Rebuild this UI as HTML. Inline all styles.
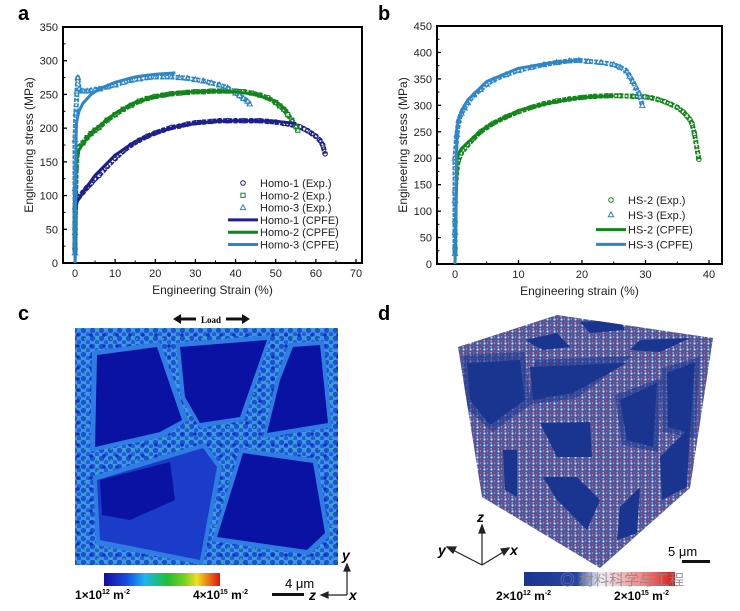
<!DOCTYPE html>
<html><head><meta charset="utf-8"><style>
html,body{margin:0;padding:0;background:#fff;}
body{width:740px;height:611px;position:relative;overflow:hidden;font-family:"Liberation Sans",Arial,sans-serif;}
svg{position:absolute;left:0;top:0;}
</style></head><body>
<svg id="fig" width="740" height="611" viewBox="0 0 740 611">
<defs>
<pattern id="cellpat" x="0" y="0" width="9" height="8" patternUnits="userSpaceOnUse">
<rect width="9" height="8" fill="#3a94ec"/>
<circle cx="2.5" cy="2.5" r="2.6" fill="#1c52cc"/>
<circle cx="7" cy="6.2" r="2.2" fill="#2060d6"/>
<circle cx="6.5" cy="1.2" r="0.7" fill="#3cc45a"/>
</pattern>
<pattern id="cellpat2" x="3" y="2" width="13" height="11" patternUnits="userSpaceOnUse">
<circle cx="4" cy="7" r="0.9" fill="#45c83a"/>
<circle cx="10" cy="3" r="1.8" fill="#142fb8"/>
</pattern>
<pattern id="cubepat" x="0" y="0" width="7" height="6" patternUnits="userSpaceOnUse">
<rect width="7" height="6" fill="#4a579e"/>
<circle cx="1.5" cy="1.5" r="1.1" fill="#d8d8ec"/>
<circle cx="5" cy="4" r="0.9" fill="#d83838"/>
<circle cx="4.5" cy="1" r="0.7" fill="#9aa0cc"/>
<circle cx="1.2" cy="4.8" r="0.8" fill="#b8bcdc"/>
</pattern>
<linearGradient id="jet" x1="0" x2="1" y1="0" y2="0">
<stop offset="0" stop-color="#1a0a9e"/><stop offset="0.2" stop-color="#1450e0"/><stop offset="0.35" stop-color="#1eb4f0"/><stop offset="0.55" stop-color="#22c030"/><stop offset="0.7" stop-color="#7ed020"/><stop offset="0.8" stop-color="#f0e020"/><stop offset="1" stop-color="#e81010"/>
</linearGradient>
<linearGradient id="bwr" x1="0" x2="1" y1="0" y2="0">
<stop offset="0" stop-color="#1a3590"/><stop offset="0.35" stop-color="#2a45a0"/><stop offset="0.5" stop-color="#f2f2f8"/><stop offset="0.8" stop-color="#f08080"/><stop offset="1" stop-color="#d81818"/>
</linearGradient>
<clipPath id="cubeclip"><polygon points="458,347 557,315 713,338 690,488 600,568 482,497"/></clipPath>
<clipPath id="cclip"><rect x="75" y="328" width="263" height="237"/></clipPath>
</defs>
<g id="gA"></g>
<g id="gB"></g>

<!-- panel c -->
<g>
<text x="18" y="320" font-size="20" font-weight="bold">c</text>
<g>
<polygon points="173,319 181,314 181,317.5 196,317.5 196,320.5 181,320.5 181,324" fill="#111"/>
<polygon points="250,319 242,314 242,317.5 226,317.5 226,320.5 242,320.5 242,324" fill="#111"/>
<text x="211" y="323" font-size="9" font-weight="bold" font-family="Liberation Serif,serif" text-anchor="middle">Load</text>
</g>
<g clip-path="url(#cclip)">
<rect x="75" y="328" width="263" height="237" fill="url(#cellpat)"/>
<rect x="75" y="328" width="263" height="237" fill="url(#cellpat2)"/>
<g fill="#2f7ce2">
<polygon points="92,351 160,342 188,420 164,437 90,452"/>
<polygon points="176,343 271,335 244,421 200,428 181,399"/>
<polygon points="289,343 324,341 332,427 263,438 276,380"/>
<polygon points="240,448 317,459 330,536 309,555 212,541"/>
<polygon points="93,476 205,443 222,467 203,565 96,545"/>
</g>
<g fill="#0a12a4">
<polygon points="97,355 157,347 182,420 160,432 95,447"/>
<polygon points="180,347 267,340 240,417 200,423 185,397"/>
<polygon points="293,347 320,345 328,423 267,433 280,380"/>
<polygon points="243,453 313,463 325,533 307,550 217,537"/>
</g>
<polygon points="97,480 203,448 217,467 200,560 100,540" fill="#1a3cc8"/>
<polygon points="100,480 170,462 175,500 130,520 102,515" fill="#0a12a4"/>
</g>
<rect x="104" y="573" width="116" height="13" fill="url(#jet)"/>
<text x="75" y="599" font-size="12" font-weight="bold">1×10<tspan font-size="7" dy="-5">12</tspan><tspan dy="5"> m</tspan><tspan font-size="7" dy="-5">-2</tspan></text>
<text x="193" y="599" font-size="12" font-weight="bold">4×10<tspan font-size="7" dy="-5">15</tspan><tspan dy="5"> m</tspan><tspan font-size="7" dy="-5">-2</tspan></text>
<text x="285" y="588" font-size="13">4 μm</text>
<rect x="272" y="593" width="32" height="3" fill="#111"/>
<g stroke="#222" stroke-width="1.2" fill="#222">
<line x1="347" y1="595" x2="347" y2="568"/><polygon points="347,564 344,571 350,571"/>
<line x1="347" y1="595" x2="325" y2="595"/><polygon points="321,595 328,592 328,598"/>
</g>
<text x="342" y="560" font-size="14" font-style="italic" font-weight="bold">y</text>
<text x="309" y="600" font-size="14" font-style="italic" font-weight="bold">z</text>
<text x="349" y="600" font-size="14" font-style="italic" font-weight="bold">x</text>
</g>

<!-- panel d -->
<g>
<text x="378" y="320" font-size="20" font-weight="bold">d</text>
<g clip-path="url(#cubeclip)">
<rect x="450" y="310" width="270" height="265" fill="url(#cubepat)"/>
<g fill="#1e3a94" opacity="0.6">
<polygon points="462,355 525,352 530,405 492,432 464,405"/>
<polygon points="535,360 632,356 577,398 528,405"/>
<polygon points="615,395 662,378 658,452 622,445"/>
<polygon points="662,368 700,357 695,438 663,432"/>
</g>
<g fill="#1a3590">
<polygon points="467,363 520,360 525,400 490,425 470,400"/>
<polygon points="503,450 517,450 517,497 505,490"/>
<polygon points="525,340 557,333 570,347 543,350"/>
<polygon points="580,322 620,320 625,330 590,333"/>
<polygon points="540,423 590,422 592,457 557,457"/>
<polygon points="530,367 627,363 573,393 533,400"/>
<polygon points="620,400 657,383 653,447 627,440"/>
<polygon points="667,373 695,362 690,433 668,427"/>
<polygon points="660,457 690,427 687,487 662,500"/>
<polygon points="543,477 577,477 600,500 587,530 557,500"/>
<polygon points="620,507 640,487 637,533 617,540"/>
<polygon points="640,340 690,338 660,352 630,350"/>
</g>
</g>
<g stroke="#222" stroke-width="1.2" fill="#222">
<line x1="482" y1="565" x2="482" y2="530"/><polygon points="482,525 479,533 485,533"/>
<line x1="482" y1="565" x2="451" y2="549"/><polygon points="447,547 453,553 456,547"/>
<line x1="482" y1="565" x2="505" y2="551"/><polygon points="509,548 501,549 504,555"/>
</g>
<text x="477" y="522" font-size="14" font-style="italic" font-weight="bold">z</text>
<text x="438" y="555" font-size="14" font-style="italic" font-weight="bold">y</text>
<text x="510" y="555" font-size="14" font-style="italic" font-weight="bold">x</text>
<text x="668" y="556" font-size="13">5 μm</text>
<rect x="682" y="560" width="28" height="3" fill="#111"/>
<rect x="524" y="572" width="151" height="14" fill="url(#bwr)"/>
<text x="560" y="585" font-size="15" fill="#888" opacity="0.85" font-family="Liberation Sans,Noto Sans CJK SC,sans-serif">◎ 材料科学与工程</text>
<text x="496" y="600" font-size="12" font-weight="bold">2×10<tspan font-size="7" dy="-5">12</tspan><tspan dy="5"> m</tspan><tspan font-size="7" dy="-5">-2</tspan></text>
<text x="614" y="600" font-size="12" font-weight="bold">2×10<tspan font-size="7" dy="-5">15</tspan><tspan dy="5"> m</tspan><tspan font-size="7" dy="-5">-2</tspan></text>
</g>
</svg>
<script>
// ---------- Panel a data ----------
const aXTicks = [0,10,20,30,40,50,60,70];
const aYTicks = [0,50,100,150,200,250,300,350];
const h1ExpX = [0,0,0,0.3,1,2,3,4,5,6,8,10,12,14,16,18,20,22,24,26,28,30,32,34,36,38,40,42,44,46,48,50,52,54,56,57,58,59,60,61,61.7,62.3];
const h1ExpY = [20,50,80,92,98,105,112,118,125,130,143,155,166,175,182,188,193,197,201,203,206,208,209,210,211,211,211,211,211,211,210,209,207,205,202,199,196,192,188,182,175,162];
const h2ExpX = [0,0,0.3,0.6,1,2,3,4,5,6,8,10,12,14,16,18,20,22,24,26,28,30,32,34,36,38,40,42,44,46,48,50,51,52,53,54,55,55.5];
const h2ExpY = [25,58,142,165,172,178,186,192,197,201,212,220,228,234,240,244,247,249,251,252,253,254,254,255,255,255,255,254,252,249,245,238,233,228,220,212,203,197];
const h3ExpX = [0,0,0,0,0.2,0.5,0.7,1,1.5,2,3,4,5,6,8,10,12,14,16,18,20,22,24,26,28,30,32,34,36,38,40,41,42,43,43.5];
const h3ExpY = [15,45,110,183,222,255,275,258,255,255,255,256,257,258,261,264,268,271,273,275,276,276,276,275,274,272,270,267,264,260,252,248,244,240,236];
const h1SimX = [0,0.3,0.6,1,2,5,10,15,20,25,30,35,40,45,50,55];
const h1SimY = [0,85,92,95,105,130,160,180,193,202,207,210,211,211,210,207];
const h2SimX = [0,0.3,1,3,5,10,15,20,25,30,35,40,45,50,53];
const h2SimY = [0,150,168,185,198,222,238,247,252,254,255,254,250,240,225];
const h3SimX = [0,0.3,0.6,1,2,4,6,10,15,20,25];
const h3SimY = [0,205,215,225,237,250,258,268,276,280,282];
// ---------- Panel b data ----------
const bXTicks = [0,10,20,30,40];
const bYTicks = [0,50,100,150,200,250,300,350,400,450];
const hs2ExpX = [0,0,0,0.3,0.5,1,2,3,4,5,6,8,10,12,14,16,18,20,22,24,26,28,30,31,32,33,34,35,36,36.5,37,37.3,37.7,38.4];
const hs2ExpY = [30,80,135,180,195,210,225,238,250,258,266,278,288,296,303,308,312,315,317,318,318,317,316,314,311,307,302,296,287,280,273,266,247,198];
const hs3ExpX = [0,0,0,0,0.3,0.6,1,1.5,2,3,4,5,6,8,10,12,14,16,18,19.5,21,23,25,26,27,27.5,28,28.5,29,29.5];
const hs3ExpY = [20,60,120,200,245,272,285,295,305,320,330,340,348,358,366,372,377,381,384,385,383,381,377,372,365,355,345,333,322,300];
const hs2SimX = [0,0.3,0.6,1,2,5,10,15,20,25];
const hs2SimY = [0,195,210,218,230,260,290,305,315,318];
const hs3SimX = [0,0.3,0.6,1,2,5,10,15,20];
const hs3SimY = [0,255,275,290,310,345,370,380,386];

const NS='http://www.w3.org/2000/svg';
const NAVY='#1c1f8c', GREEN='#11861a', LBLUE='#2c86c8';
function mk(tag,attrs,parent){const e=document.createElementNS(NS,tag);for(const k in attrs)e.setAttribute(k,attrs[k]);parent.appendChild(e);return e;}

function panel(g,cfg){
  const xs=v=>cfg.x0+(v-cfg.xmin)/(cfg.xmax-cfg.xmin)*(cfg.x1-cfg.x0);
  const ys=v=>cfg.y0-(v-cfg.ymin)/(cfg.ymax-cfg.ymin)*(cfg.y0-cfg.y1);
  cfg.xs=xs;cfg.ys=ys;
  const L=cfg.bl,R=cfg.br,T=cfg.bt,B=cfg.bb;
  cfg.xTicks.forEach((v,i)=>{
    const t=mk('line',{x1:xs(v),x2:xs(v),y1:B,y2:B-4,stroke:'#000','stroke-width':1.3},g);
    
    
    const lb=mk('text',{x:xs(v),y:B+14,'font-size':11,'text-anchor':'middle',fill:'#222'},g);
    lb.textContent=v;
    
    
    if(i<cfg.xTicks.length-1){const m=(v+cfg.xTicks[i+1])/2;
      const mt=mk('line',{x1:xs(m),x2:xs(m),y1:B,y2:B-2.5,stroke:'#000','stroke-width':1},g);
      
      }
  });
  cfg.yTicks.forEach((v,i)=>{
    const t=mk('line',{x1:L,x2:L+4,y1:ys(v),y2:ys(v),stroke:'#000','stroke-width':1.3},g);
    
    
    const lb=mk('text',{x:L-5,y:ys(v)+4,'font-size':11,'text-anchor':'end',fill:'#222'},g);
    lb.textContent=v;
    
    
    if(i<cfg.yTicks.length-1){const m=(v+cfg.yTicks[i+1])/2;
      const mt=mk('line',{x1:L,x2:L+2.5,y1:ys(m),y2:ys(m),stroke:'#000','stroke-width':1},g);
      
      }
  });
  const frame=mk('rect',{x:L,y:T,width:R-L,height:B-T,fill:'none',stroke:'#000','stroke-width':2},g);
  
  
  const xt=mk('text',{x:(L+R)/2,y:B+31,'font-size':12,'text-anchor':'middle',fill:'#222'},g);
  xt.textContent=cfg.xTitle;
  
  
  const yt=mk('text',{x:0,y:0,'font-size':12,'text-anchor':'middle',fill:'#222',transform:`translate(${L-30},${(T+B)/2}) rotate(-90)`},g);
  yt.textContent='Engineering stress (MPa)';
  
  
  const pl=mk('text',{x:cfg.labX,y:20,'font-size':20,'font-weight':'bold'},g);
  pl.textContent=cfg.label;
  
  
}
function marker(g,type,x,y,color){
  let e;
  if(type==='o') e=mk('circle',{cx:x,cy:y,r:2.3,fill:'none',stroke:color,'stroke-width':1},g);
  else if(type==='s') e=mk('rect',{x:x-2.1,y:y-2.1,width:4.2,height:4.2,fill:'none',stroke:color,'stroke-width':1},g);
  else e=mk('polygon',{points:`${x},${y-2.8} ${x-2.7},${y+2} ${x+2.7},${y+2}`,fill:'none',stroke:color,'stroke-width':1},g);
  return e;
}
function expSeries(g,cfg,X,Y,type,color,name){
  const sg=mk('g',{},g);
  
  
  const d=X.map((v,i)=>(i?'L':'M')+cfg.xs(v).toFixed(1)+','+cfg.ys(Y[i]).toFixed(1)).join(' ');
  mk('path',{d:d,fill:'none',stroke:color,'stroke-width':5,'stroke-linejoin':'round','stroke-dasharray':'4 1.2'},sg);
  mk('path',{d:d,fill:'none',stroke:'#fff','stroke-width':1.6,'stroke-linejoin':'round','stroke-dasharray':'2 1.5'},sg);
  X.forEach((v,i)=>{const m=marker(sg,type,cfg.xs(v),cfg.ys(Y[i]),color);
    
    });
}
function simSeries(g,cfg,X,Y,color,name){
  const d=X.map((v,i)=>(i?'L':'M')+cfg.xs(v).toFixed(1)+','+cfg.ys(Y[i]).toFixed(1)).join(' ');
  const p=mk('path',{d:d,fill:'none',stroke:color,'stroke-width':3,'stroke-linejoin':'round'},g);
  
  
}
function legend(g,x,y0,dy,items){
  items.forEach((it,i)=>{
    const y=y0+i*dy;
    const lg=mk('g',{},g);
    
    
    if(it.t==='line') mk('line',{x1:x-15,x2:x+15,y1:y,y2:y,stroke:it.c,'stroke-width':3},lg);
    else marker(lg,it.t,x,y,it.c);
    const tx=mk('text',{x:x+17,y:y+4,'font-size':11,fill:'#222'},lg);
    tx.textContent=it.label;
  });
}
const gA=document.getElementById('gA');
const cA={x0:75,x1:356,xmin:0,xmax:70,y0:263,y1:27,ymin:0,ymax:350,bl:63,br:362,bt:27,bb:263,xTicks:aXTicks,yTicks:aYTicks,xTitle:'Engineering Strain (%)',label:'a',labX:18};
panel(gA,cA);
expSeries(gA,cA,h1ExpX,h1ExpY,'o',NAVY,'homo-1-exp');
expSeries(gA,cA,h2ExpX,h2ExpY,'s',GREEN,'homo-2-exp');
expSeries(gA,cA,h3ExpX,h3ExpY,'t',LBLUE,'homo-3-exp');
simSeries(gA,cA,h1SimX,h1SimY,NAVY,'homo-1-cpfe-line');
simSeries(gA,cA,h2SimX,h2SimY,GREEN,'homo-2-cpfe-line');
simSeries(gA,cA,h3SimX,h3SimY,LBLUE,'homo-3-cpfe-line');
legend(gA,243,183,12.3,[{t:'o',c:NAVY,label:'Homo-1 (Exp.)'},{t:'s',c:GREEN,label:'Homo-2 (Exp.)'},{t:'t',c:LBLUE,label:'Homo-3 (Exp.)'},{t:'line',c:NAVY,label:'Homo-1 (CPFE)'},{t:'line',c:GREEN,label:'Homo-2 (CPFE)'},{t:'line',c:LBLUE,label:'Homo-3 (CPFE)'}]);
const gB=document.getElementById('gB');
const cB={x0:455,x1:709,xmin:0,xmax:40,y0:264,y1:26,ymin:0,ymax:450,bl:437,br:722,bt:26,bb:264,xTicks:bXTicks,yTicks:bYTicks,xTitle:'Engineering strain (%)',label:'b',labX:378};
panel(gB,cB);
expSeries(gB,cB,hs2ExpX,hs2ExpY,'o',GREEN,'hs-2-exp');
expSeries(gB,cB,hs3ExpX,hs3ExpY,'t',LBLUE,'hs-3-exp');
simSeries(gB,cB,hs2SimX,hs2SimY,GREEN,'hs-2-cpfe-line');
simSeries(gB,cB,hs3SimX,hs3SimY,LBLUE,'hs-3-cpfe-line');
legend(gB,611,200,14.8,[{t:'o',c:GREEN,label:'HS-2 (Exp.)'},{t:'t',c:LBLUE,label:'HS-3 (Exp.)'},{t:'line',c:GREEN,label:'HS-2 (CPFE)'},{t:'line',c:LBLUE,label:'HS-3 (CPFE)'}]);
</script>
</body></html>
